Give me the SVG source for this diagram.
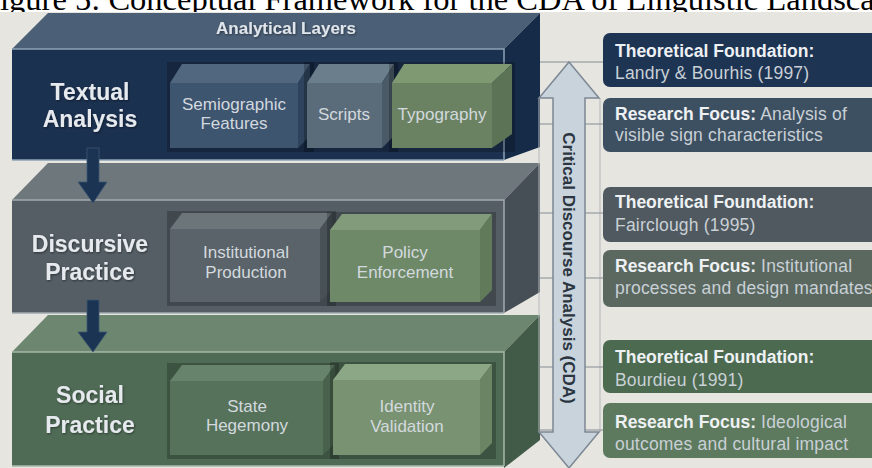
<svg xmlns="http://www.w3.org/2000/svg" width="872" height="468" viewBox="0 0 872 468">
  <style>
    .cap { font-family: "Liberation Serif", "Times New Roman", serif; font-size: 32.5px; fill: #000; }
    .title { font-family: "Liberation Sans", Arial, sans-serif; font-weight: bold; font-size: 23px; fill: #e6eaee; text-anchor: middle; }
    .hdr { font-family: "Liberation Sans", Arial, sans-serif; font-weight: bold; font-size: 17px; fill: #dfe5ea; text-anchor: middle; }
    .sub { font-family: "Liberation Sans", Arial, sans-serif; font-size: 17px; fill: #d3d9de; text-anchor: middle; }
    .info { font-family: "Liberation Sans", Arial, sans-serif; font-size: 17.5px; fill: #c9d0d6; letter-spacing: 0.2px; }
    .info .b { font-weight: bold; fill: #eef1f3; letter-spacing: 0; }
    .vert { font-family: "Liberation Sans", Arial, sans-serif; font-weight: bold; font-size: 17px; fill: #2b3540; text-anchor: middle; }
    .edge { stroke-width: 1.5; fill: none; }
    .link { stroke: #868d93; stroke-width: 1.2; }
    .rail { stroke: #b3b8bb; stroke-width: 1; }
    .flow { fill: #1b3453; stroke: #3c5572; stroke-width: 0.8; }
    .shade { fill: #000; opacity: 0.22; }
  </style>
  <defs>
    <filter id="soft" x="-10%" y="-10%" width="120%" height="130%">
      <feDropShadow dx="0.8" dy="1" stdDeviation="0.8" flood-color="#000" flood-opacity="0.45"/>
    </filter>
  </defs>

  <!-- page, caption and panel background -->
  <rect x="0" y="0" width="872" height="468" fill="#ffffff"/>
  <text class="cap" x="-18" y="10">Figure 5: Conceptual Framework for the CDA of Linguistic Landscape</text>
  <rect x="0" y="12" width="872" height="456" fill="#e6e5e0"/>

  <!-- Layer 1: Textual Analysis -->
  <g id="layer-textual">
    <polygon points="12,49 48,13 540,13 504,49" fill="#4b5f77"/>
    <polygon points="504,49 540,13 540,147 504,160" fill="#152b48"/>
    <rect x="12" y="49" width="492" height="111" fill="#1b3150"/>
    <polyline class="edge" stroke="#8ea2b6" points="12,49 504,49 504,160"/>
    <line class="edge" stroke="#8ea2b6" x1="12" y1="160" x2="504" y2="160"/>
    <text class="hdr" x="286" y="34" filter="url(#soft)">Analytical Layers</text>
    <text class="title" x="90" y="100" filter="url(#soft)">Textual</text>
    <text class="title" x="90" y="127" filter="url(#soft)">Analysis</text>
    <g id="box-semiographic">
      <rect class="shade" x="167" y="62" width="147" height="90"/>
      <polygon points="170,83 182,64 310,64 298,83" fill="#50677f"/>
      <polygon points="298,83 310,64 310,136 298,148" fill="#2f445c"/>
      <rect x="170" y="83" width="128" height="65" fill="#3e5570"/>
      <text class="sub" x="234" y="110">Semiographic</text>
      <text class="sub" x="234" y="129">Features</text>
    </g>
    <g id="box-scripts">
      <rect class="shade" x="304" y="62" width="94" height="90"/>
      <polygon points="307,83 319,64 394,64 382,83" fill="#6b7e8b"/>
      <polygon points="382,83 394,64 394,136 382,148" fill="#4a5a66"/>
      <rect x="307" y="83" width="75" height="65" fill="#5a6c79"/>
      <text class="sub" x="344" y="120">Scripts</text>
    </g>
    <g id="box-typography">
      <rect class="shade" x="389" y="62" width="126" height="90"/>
      <polygon points="392,83 404,64 512,64 492,83" fill="#7f9973"/>
      <polygon points="492,83 512,64 512,134 492,148" fill="#5c7455"/>
      <rect x="392" y="83" width="100" height="65" fill="#6a8262"/>
      <text class="sub" x="442" y="120">Typography</text>
    </g>
  </g>

  <!-- Layer 2: Discursive Practice -->
  <g id="layer-discursive">
    <polygon points="12,200 48,163 540,163 504,200" fill="#6d777c"/>
    <polygon points="504,200 540,163 540,292 504,313" fill="#464f55"/>
    <rect x="12" y="200" width="492" height="113" fill="#545e64"/>
    <polyline class="edge" stroke="#a2abb0" points="12,200 504,200 504,313"/>
    <line class="edge" stroke="#a2abb0" x1="12" y1="313" x2="504" y2="313"/>
    <text class="title" x="90" y="252" filter="url(#soft)">Discursive</text>
    <text class="title" x="90" y="280" filter="url(#soft)">Practice</text>
    <g id="box-institutional">
      <rect class="shade" x="167" y="211" width="169" height="95"/>
      <polygon points="170,229 182,213 332,213 320,229" fill="#6b757a"/>
      <polygon points="320,229 332,213 332,290 320,302" fill="#485156"/>
      <rect x="170" y="229" width="150" height="73" fill="#596369"/>
      <text class="sub" x="246" y="258">Institutional</text>
      <text class="sub" x="246" y="278">Production</text>
    </g>
    <g id="box-policy">
      <rect class="shade" x="327" y="212" width="169" height="94"/>
      <polygon points="330,230 342,214 492,214 480,230" fill="#829b7a"/>
      <polygon points="480,230 492,214 492,290 480,302" fill="#607a5a"/>
      <rect x="330" y="230" width="150" height="72" fill="#6e8967"/>
      <text class="sub" x="405" y="258">Policy</text>
      <text class="sub" x="405" y="278">Enforcement</text>
    </g>
  </g>

  <!-- Layer 3: Social Practice -->
  <g id="layer-social">
    <polygon points="12,352 48,315 540,315 504,352" fill="#6c8670"/>
    <polygon points="504,352 540,315 540,440 504,468" fill="#425a48"/>
    <rect x="12" y="352" width="492" height="114" fill="#4f6b55"/>
    <polyline class="edge" stroke="#a6b8a8" points="12,352 504,352 504,466"/>
    <line class="edge" stroke="#a6b8a8" x1="12" y1="466" x2="504" y2="466"/>
    <text class="title" x="90" y="403" filter="url(#soft)">Social</text>
    <text class="title" x="90" y="433" filter="url(#soft)">Practice</text>
    <g id="box-state">
      <rect class="shade" x="167" y="363" width="172" height="96"/>
      <polygon points="170,381 182,365 335,365 323,381" fill="#68836c"/>
      <polygon points="323,381 335,365 335,443 323,455" fill="#48624d"/>
      <rect x="170" y="381" width="153" height="74" fill="#56725b"/>
      <text class="sub" x="247" y="412">State</text>
      <text class="sub" x="247" y="431">Hegemony</text>
    </g>
    <g id="box-identity">
      <rect class="shade" x="330" y="362" width="166" height="97"/>
      <polygon points="333,380 345,364 492,364 480,380" fill="#8ca785"/>
      <polygon points="480,380 492,364 492,443 480,455" fill="#6a8464"/>
      <rect x="333" y="380" width="147" height="75" fill="#799372"/>
      <text class="sub" x="407" y="412">Identity</text>
      <text class="sub" x="407" y="432">Validation</text>
    </g>
  </g>

  <!-- Connectors: layer flow arrows, links to the side notes, CDA axis -->
  <g id="connectors">
    <path class="flow" d="M87,148 H99 V182 H107 L93,203 L78,182 H87 Z"/>
    <path class="flow" d="M87,300 H99 V332 H107 L93,352 L78,332 H87 Z"/>
    <line class="rail" x1="539" y1="98" x2="539" y2="432"/>
    <line class="rail" x1="600" y1="98" x2="600" y2="432"/>
    <line class="link" x1="540" y1="62" x2="603" y2="62"/>
    <line class="link" x1="540" y1="124" x2="603" y2="124"/>
    <line class="link" x1="540" y1="213" x2="603" y2="213"/>
    <line class="link" x1="540" y1="278" x2="603" y2="278"/>
    <line class="link" x1="540" y1="367" x2="603" y2="367"/>
    <line class="link" x1="540" y1="430" x2="603" y2="430"/>
    <g id="cda-axis">
      <path d="M569,62 L599,98 L585,98 L585,432 L599,432 L569,468 L539,432 L553,432 L553,98 L539,98 Z" fill="#c8d3dc" stroke="#7c8894" stroke-width="1.5"/>
      <text class="vert" transform="translate(569,268) rotate(90)" y="6">Critical Discourse Analysis (CDA)</text>
    </g>
  </g>

  <!-- Side notes -->
  <g id="note-theory-textual">
    <rect x="603" y="33" width="290" height="54" rx="7" fill="#1d3453"/>
    <text class="info" x="615" y="57"><tspan class="b">Theoretical Foundation:</tspan></text>
    <text class="info" x="615" y="79">Landry &amp; Bourhis (1997)</text>
  </g>
  <g id="note-focus-textual">
    <rect x="603" y="98" width="290" height="54" rx="7" fill="#3d5062"/>
    <text class="info" x="615" y="120"><tspan class="b">Research Focus:</tspan> Analysis of</text>
    <text class="info" x="615" y="141">visible sign characteristics</text>
  </g>
  <g id="note-theory-discursive">
    <rect x="603" y="187" width="290" height="55" rx="7" fill="#4f595f"/>
    <text class="info" x="615" y="208"><tspan class="b">Theoretical Foundation:</tspan></text>
    <text class="info" x="615" y="231">Fairclough (1995)</text>
  </g>
  <g id="note-focus-discursive">
    <rect x="603" y="250" width="290" height="57" rx="7" fill="#5a6860"/>
    <text class="info" x="615" y="272"><tspan class="b">Research Focus:</tspan> Institutional</text>
    <text class="info" x="615" y="294">processes and design mandates</text>
  </g>
  <g id="note-theory-social">
    <rect x="603" y="340" width="290" height="53" rx="7" fill="#4b6a50"/>
    <text class="info" x="615" y="363"><tspan class="b">Theoretical Foundation:</tspan></text>
    <text class="info" x="615" y="386">Bourdieu (1991)</text>
  </g>
  <g id="note-focus-social">
    <rect x="603" y="403" width="290" height="55" rx="7" fill="#5d7a5e"/>
    <text class="info" x="615" y="428"><tspan class="b">Research Focus:</tspan> Ideological</text>
    <text class="info" x="615" y="450">outcomes and cultural impact</text>
  </g>
</svg>
